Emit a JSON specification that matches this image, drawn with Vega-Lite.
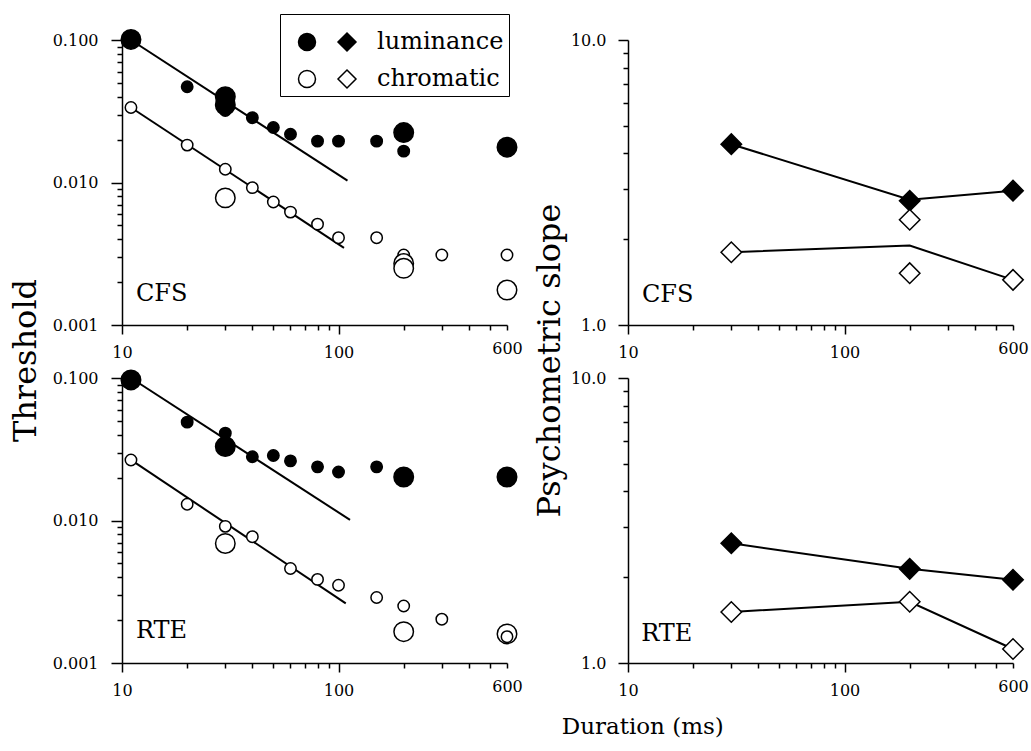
{
  "$schema": "https://vega.github.io/schema/vega-lite/v6.json",
  "padding": {"left": 9, "top": 13, "right": 10, "bottom": 10},
  "bounds": "flush",
  "columns": 2,
  "spacing": {"row": 53, "column": 121},
  "config": {
    "view": {"stroke": null},
    "font": "DejaVu Serif",
    "axis": {
      "grid": false,
      "domainColor": "black",
      "domainWidth": 1.5,
      "tickColor": "black",
      "tickWidth": 1.5,
      "labelColor": "black",
      "labelFont": "DejaVu Serif",
      "labelFontSize": 16,
      "labelOverlap": false,
      "labelFlush": false,
      "labelBound": false,
      "titleFont": "DejaVu Serif",
      "titleFontSize": 32,
      "titleFontWeight": "normal",
      "titleColor": "black"
    }
  },
  "title": {"text": "Duration (ms)", "orient": "bottom", "anchor": "middle", "font": "DejaVu Serif", "fontSize": 23, "fontWeight": "normal", "color": "black", "offset": 18, "dx": 124},
  "datasets": {
    "thr": [
      {"panel": "CFS", "type": "luminance", "dur": 11, "thr": 0.101, "marker": "large"},
      {"panel": "CFS", "type": "luminance", "dur": 20, "thr": 0.047, "marker": "small"},
      {"panel": "CFS", "type": "luminance", "dur": 30, "thr": 0.040, "marker": "large"},
      {"panel": "CFS", "type": "luminance", "dur": 30, "thr": 0.035, "marker": "large"},
      {"panel": "CFS", "type": "luminance", "dur": 30, "thr": 0.032, "marker": "small"},
      {"panel": "CFS", "type": "luminance", "dur": 40, "thr": 0.0285, "marker": "small"},
      {"panel": "CFS", "type": "luminance", "dur": 50, "thr": 0.0243, "marker": "small"},
      {"panel": "CFS", "type": "luminance", "dur": 60, "thr": 0.0218, "marker": "small"},
      {"panel": "CFS", "type": "luminance", "dur": 80, "thr": 0.0195, "marker": "small"},
      {"panel": "CFS", "type": "luminance", "dur": 100, "thr": 0.0195, "marker": "small"},
      {"panel": "CFS", "type": "luminance", "dur": 150, "thr": 0.0195, "marker": "small"},
      {"panel": "CFS", "type": "luminance", "dur": 200, "thr": 0.0224, "marker": "large"},
      {"panel": "CFS", "type": "luminance", "dur": 200, "thr": 0.0166, "marker": "small"},
      {"panel": "CFS", "type": "luminance", "dur": 600, "thr": 0.0177, "marker": "large"},
      {"panel": "CFS", "type": "chromatic", "dur": 11, "thr": 0.0336, "marker": "small"},
      {"panel": "CFS", "type": "chromatic", "dur": 20, "thr": 0.0183, "marker": "small"},
      {"panel": "CFS", "type": "chromatic", "dur": 30, "thr": 0.0124, "marker": "small"},
      {"panel": "CFS", "type": "chromatic", "dur": 30, "thr": 0.0078, "marker": "large"},
      {"panel": "CFS", "type": "chromatic", "dur": 40, "thr": 0.0092, "marker": "small"},
      {"panel": "CFS", "type": "chromatic", "dur": 50, "thr": 0.0073, "marker": "small"},
      {"panel": "CFS", "type": "chromatic", "dur": 60, "thr": 0.0062, "marker": "small"},
      {"panel": "CFS", "type": "chromatic", "dur": 80, "thr": 0.0051, "marker": "small"},
      {"panel": "CFS", "type": "chromatic", "dur": 100, "thr": 0.0041, "marker": "small"},
      {"panel": "CFS", "type": "chromatic", "dur": 150, "thr": 0.0041, "marker": "small"},
      {"panel": "CFS", "type": "chromatic", "dur": 200, "thr": 0.0031, "marker": "small"},
      {"panel": "CFS", "type": "chromatic", "dur": 200, "thr": 0.0027, "marker": "large"},
      {"panel": "CFS", "type": "chromatic", "dur": 200, "thr": 0.0025, "marker": "large"},
      {"panel": "CFS", "type": "chromatic", "dur": 300, "thr": 0.0031, "marker": "small"},
      {"panel": "CFS", "type": "chromatic", "dur": 600, "thr": 0.0031, "marker": "small"},
      {"panel": "CFS", "type": "chromatic", "dur": 600, "thr": 0.00176, "marker": "large"},
      {"panel": "RTE", "type": "luminance", "dur": 11, "thr": 0.097, "marker": "large"},
      {"panel": "RTE", "type": "luminance", "dur": 20, "thr": 0.049, "marker": "small"},
      {"panel": "RTE", "type": "luminance", "dur": 30, "thr": 0.041, "marker": "small"},
      {"panel": "RTE", "type": "luminance", "dur": 30, "thr": 0.033, "marker": "large"},
      {"panel": "RTE", "type": "luminance", "dur": 40, "thr": 0.028, "marker": "small"},
      {"panel": "RTE", "type": "luminance", "dur": 50, "thr": 0.0286, "marker": "small"},
      {"panel": "RTE", "type": "luminance", "dur": 60, "thr": 0.0262, "marker": "small"},
      {"panel": "RTE", "type": "luminance", "dur": 80, "thr": 0.0238, "marker": "small"},
      {"panel": "RTE", "type": "luminance", "dur": 100, "thr": 0.0219, "marker": "small"},
      {"panel": "RTE", "type": "luminance", "dur": 150, "thr": 0.0238, "marker": "small"},
      {"panel": "RTE", "type": "luminance", "dur": 200, "thr": 0.0202, "marker": "large"},
      {"panel": "RTE", "type": "luminance", "dur": 600, "thr": 0.0202, "marker": "large"},
      {"panel": "RTE", "type": "chromatic", "dur": 11, "thr": 0.0266, "marker": "small"},
      {"panel": "RTE", "type": "chromatic", "dur": 20, "thr": 0.0130, "marker": "small"},
      {"panel": "RTE", "type": "chromatic", "dur": 30, "thr": 0.0091, "marker": "small"},
      {"panel": "RTE", "type": "chromatic", "dur": 30, "thr": 0.0069, "marker": "large"},
      {"panel": "RTE", "type": "chromatic", "dur": 40, "thr": 0.0077, "marker": "small"},
      {"panel": "RTE", "type": "chromatic", "dur": 60, "thr": 0.0046, "marker": "small"},
      {"panel": "RTE", "type": "chromatic", "dur": 80, "thr": 0.00386, "marker": "small"},
      {"panel": "RTE", "type": "chromatic", "dur": 100, "thr": 0.00351, "marker": "small"},
      {"panel": "RTE", "type": "chromatic", "dur": 150, "thr": 0.00288, "marker": "small"},
      {"panel": "RTE", "type": "chromatic", "dur": 200, "thr": 0.00251, "marker": "small"},
      {"panel": "RTE", "type": "chromatic", "dur": 200, "thr": 0.00166, "marker": "large"},
      {"panel": "RTE", "type": "chromatic", "dur": 300, "thr": 0.00203, "marker": "small"},
      {"panel": "RTE", "type": "chromatic", "dur": 600, "thr": 0.0016, "marker": "large"},
      {"panel": "RTE", "type": "chromatic", "dur": 600, "thr": 0.00153, "marker": "small"}
    ],
    "fit": [
      {"panel": "CFS", "type": "luminance", "dur": 11, "thr": 0.100},
      {"panel": "CFS", "type": "luminance", "dur": 110, "thr": 0.0103},
      {"panel": "CFS", "type": "chromatic", "dur": 11, "thr": 0.0336},
      {"panel": "CFS", "type": "chromatic", "dur": 106, "thr": 0.00348},
      {"panel": "RTE", "type": "luminance", "dur": 11, "thr": 0.100},
      {"panel": "RTE", "type": "luminance", "dur": 113, "thr": 0.0101},
      {"panel": "RTE", "type": "chromatic", "dur": 11, "thr": 0.0266},
      {"panel": "RTE", "type": "chromatic", "dur": 108, "thr": 0.00262}
    ],
    "slope": [
      {"panel": "CFS", "type": "luminance", "dur": 30, "slope": 4.31},
      {"panel": "CFS", "type": "luminance", "dur": 200, "slope": 2.73},
      {"panel": "CFS", "type": "luminance", "dur": 600, "slope": 2.96},
      {"panel": "CFS", "type": "chromatic", "dur": 30, "slope": 1.80},
      {"panel": "CFS", "type": "chromatic", "dur": 200, "slope": 2.34},
      {"panel": "CFS", "type": "chromatic", "dur": 200, "slope": 1.52},
      {"panel": "CFS", "type": "chromatic", "dur": 600, "slope": 1.44},
      {"panel": "RTE", "type": "luminance", "dur": 30, "slope": 2.63},
      {"panel": "RTE", "type": "luminance", "dur": 200, "slope": 2.14},
      {"panel": "RTE", "type": "luminance", "dur": 600, "slope": 1.96},
      {"panel": "RTE", "type": "chromatic", "dur": 30, "slope": 1.51},
      {"panel": "RTE", "type": "chromatic", "dur": 200, "slope": 1.64},
      {"panel": "RTE", "type": "chromatic", "dur": 600, "slope": 1.12}
    ],
    "slopeLine": [
      {"panel": "CFS", "type": "luminance", "dur": 30, "slope": 4.31},
      {"panel": "CFS", "type": "luminance", "dur": 200, "slope": 2.75},
      {"panel": "CFS", "type": "luminance", "dur": 600, "slope": 2.96},
      {"panel": "CFS", "type": "chromatic", "dur": 30, "slope": 1.80},
      {"panel": "CFS", "type": "chromatic", "dur": 200, "slope": 1.90},
      {"panel": "CFS", "type": "chromatic", "dur": 600, "slope": 1.44},
      {"panel": "RTE", "type": "luminance", "dur": 30, "slope": 2.63},
      {"panel": "RTE", "type": "luminance", "dur": 200, "slope": 2.14},
      {"panel": "RTE", "type": "luminance", "dur": 600, "slope": 1.96},
      {"panel": "RTE", "type": "chromatic", "dur": 30, "slope": 1.51},
      {"panel": "RTE", "type": "chromatic", "dur": 200, "slope": 1.64},
      {"panel": "RTE", "type": "chromatic", "dur": 600, "slope": 1.12}
    ],
    "labels": [
      {"panel": "CFS", "kind": "thr", "dur": 11.6, "value": 0.00148, "text": "CFS"},
      {"panel": "RTE", "kind": "thr", "dur": 11.6, "value": 0.00150, "text": "RTE"},
      {"panel": "CFS", "kind": "slope", "dur": 11.6, "value": 1.2, "text": "CFS"},
      {"panel": "RTE", "kind": "slope", "dur": 11.5, "value": 1.19, "text": "RTE"}
    ]
  },
  "concat": [
    {
      "width": 385, "height": 285,
      "layer": [
        {
          "data": {"name": "fit"},
          "transform": [{"filter": "datum.panel == 'CFS'"}],
          "mark": {"type": "line", "color": "black", "strokeWidth": 2},
          "encoding": {
            "x": {"field": "dur", "type": "quantitative", "scale": {"type": "log", "domain": [10, 600], "nice": false},
              "axis": {"title": null, "values": [10,20,30,40,50,60,70,80,90,100,200,300,400,500,600], "labelExpr": "datum.value==10||datum.value==100||datum.value==600 ? format(datum.value,'d') : ''", "tickSize": {"condition": {"test": "datum.value==10||datum.value==100", "value": 9}, "value": 5}, "labelPadding": 10}},
            "y": {"field": "thr", "type": "quantitative", "scale": {"type": "log", "domain": [0.001, 0.1], "nice": false},
              "axis": {"title": "Threshold", "titleY": 320, "titlePadding": 10, "values": [0.001,0.002,0.003,0.004,0.005,0.006,0.007,0.008,0.009,0.01,0.02,0.03,0.04,0.05,0.06,0.07,0.08,0.09,0.1], "labelExpr": "datum.value==0.001||datum.value==0.01||datum.value==0.1 ? format(datum.value,'.3f') : ''", "tickSize": {"condition": {"test": "datum.value==0.001||datum.value==0.01||datum.value==0.1", "value": 11}, "value": 5}, "labelPadding": 13}},
            "detail": {"field": "type", "type": "nominal"}
          }
        },
        {
          "data": {"name": "thr"},
          "transform": [{"filter": "datum.panel == 'CFS'"}],
          "mark": {"type": "point", "shape": "circle", "filled": true, "stroke": "black", "strokeWidth": 1.5, "opacity": 1},
          "encoding": {
            "x": {"field": "dur", "type": "quantitative"},
            "y": {"field": "thr", "type": "quantitative"},
            "fill": {"field": "type", "type": "nominal", "scale": {"domain": ["luminance", "chromatic"], "range": ["black", "white"]},
              "legend": {"orient": "none", "legendX": 158, "legendY": -26, "title": " ", "titleFontSize": 9, "titlePadding": 2,
                "symbolType": "M -2.85,0 A 0.85,0.85 0 1,1 -1.15,0 A 0.85,0.85 0 1,1 -2.85,0 Z M 2,-0.9 L 2.9,0 L 2,0.9 L 1.1,0 Z",
                "symbolSize": 400, "symbolStrokeColor": "black", "symbolStrokeWidth": 1.5,
                "labelFont": "DejaVu Serif", "labelFontSize": 24, "labelColor": "black", "labelOffset": 38, "labelLimit": 300,
                "strokeColor": "black", "fillColor": "white", "padding": 5, "rowPadding": 13, "symbolOffset": 30}},
            "size": {"field": "marker", "type": "ordinal", "scale": {"domain": ["small", "large"], "range": [130, 380]}, "legend": null}
          }
        },
        {
          "data": {"name": "labels"},
          "transform": [{"filter": "datum.panel == 'CFS' && datum.kind == 'thr'"}],
          "mark": {"type": "text", "align": "left", "baseline": "alphabetic", "fontSize": 24, "font": "DejaVu Serif", "color": "black"},
          "encoding": {
            "x": {"field": "dur", "type": "quantitative"},
            "y": {"field": "value", "type": "quantitative"},
            "text": {"field": "text"}
          }
        }
      ]
    },
    {
      "width": 385, "height": 285,
      "layer": [
        {
          "data": {"name": "slopeLine"},
          "transform": [{"filter": "datum.panel == 'CFS'"}],
          "mark": {"type": "line", "color": "black", "strokeWidth": 2},
          "encoding": {
            "x": {"field": "dur", "type": "quantitative", "scale": {"type": "log", "domain": [10, 600], "nice": false},
              "axis": {"title": null, "values": [10,20,30,40,50,60,70,80,90,100,200,300,400,500,600], "labelExpr": "datum.value==10||datum.value==100||datum.value==600 ? format(datum.value,'d') : ''", "tickSize": {"condition": {"test": "datum.value==10||datum.value==100", "value": 9}, "value": 5}, "labelPadding": 10}},
            "y": {"field": "slope", "type": "quantitative", "scale": {"type": "log", "domain": [1, 10], "nice": false},
              "axis": {"title": "Psychometric slope", "titleY": 320, "titlePadding": 4, "values": [1,2,3,4,5,6,7,8,9,10], "labelExpr": "datum.value==1||datum.value==10 ? format(datum.value,'.1f') : ''", "tickSize": {"condition": {"test": "datum.value==1||datum.value==10", "value": 10}, "value": 5}, "labelPadding": 12}},
            "detail": {"field": "type", "type": "nominal"}
          }
        },
        {
          "data": {"name": "slope"},
          "transform": [{"filter": "datum.panel == 'CFS'"}],
          "mark": {"type": "point", "shape": "diamond", "filled": true, "stroke": "black", "strokeWidth": 1.5, "opacity": 1, "size": 420},
          "encoding": {
            "x": {"field": "dur", "type": "quantitative"},
            "y": {"field": "slope", "type": "quantitative"},
            "fill": {"field": "type", "type": "nominal", "scale": {"domain": ["luminance", "chromatic"], "range": ["black", "white"]}, "legend": null}
          }
        },
        {
          "data": {"name": "labels"},
          "transform": [{"filter": "datum.panel == 'CFS' && datum.kind == 'slope'"}],
          "mark": {"type": "text", "align": "left", "baseline": "alphabetic", "fontSize": 24, "font": "DejaVu Serif", "color": "black"},
          "encoding": {
            "x": {"field": "dur", "type": "quantitative"},
            "y": {"field": "value", "type": "quantitative"},
            "text": {"field": "text"}
          }
        }
      ]
    },
    {
      "width": 385, "height": 285,
      "layer": [
        {
          "data": {"name": "fit"},
          "transform": [{"filter": "datum.panel == 'RTE'"}],
          "mark": {"type": "line", "color": "black", "strokeWidth": 2},
          "encoding": {
            "x": {"field": "dur", "type": "quantitative", "scale": {"type": "log", "domain": [10, 600], "nice": false},
              "axis": {"title": null, "values": [10,20,30,40,50,60,70,80,90,100,200,300,400,500,600], "labelExpr": "datum.value==10||datum.value==100||datum.value==600 ? format(datum.value,'d') : ''", "tickSize": {"condition": {"test": "datum.value==10||datum.value==100", "value": 9}, "value": 5}, "labelPadding": 10}},
            "y": {"field": "thr", "type": "quantitative", "scale": {"type": "log", "domain": [0.001, 0.1], "nice": false},
              "axis": {"title": null, "values": [0.001,0.002,0.003,0.004,0.005,0.006,0.007,0.008,0.009,0.01,0.02,0.03,0.04,0.05,0.06,0.07,0.08,0.09,0.1], "labelExpr": "datum.value==0.001||datum.value==0.01||datum.value==0.1 ? format(datum.value,'.3f') : ''", "tickSize": {"condition": {"test": "datum.value==0.001||datum.value==0.01||datum.value==0.1", "value": 11}, "value": 5}, "labelPadding": 13}},
            "detail": {"field": "type", "type": "nominal"}
          }
        },
        {
          "data": {"name": "thr"},
          "transform": [{"filter": "datum.panel == 'RTE'"}],
          "mark": {"type": "point", "shape": "circle", "filled": true, "stroke": "black", "strokeWidth": 1.5, "opacity": 1},
          "encoding": {
            "x": {"field": "dur", "type": "quantitative"},
            "y": {"field": "thr", "type": "quantitative"},
            "fill": {"field": "type", "type": "nominal", "scale": {"domain": ["luminance", "chromatic"], "range": ["black", "white"]}, "legend": null},
            "size": {"field": "marker", "type": "ordinal", "scale": {"domain": ["small", "large"], "range": [130, 380]}, "legend": null}
          }
        },
        {
          "data": {"name": "labels"},
          "transform": [{"filter": "datum.panel == 'RTE' && datum.kind == 'thr'"}],
          "mark": {"type": "text", "align": "left", "baseline": "alphabetic", "fontSize": 24, "font": "DejaVu Serif", "color": "black"},
          "encoding": {
            "x": {"field": "dur", "type": "quantitative"},
            "y": {"field": "value", "type": "quantitative"},
            "text": {"field": "text"}
          }
        }
      ]
    },
    {
      "width": 385, "height": 285,
      "layer": [
        {
          "data": {"name": "slopeLine"},
          "transform": [{"filter": "datum.panel == 'RTE'"}],
          "mark": {"type": "line", "color": "black", "strokeWidth": 2},
          "encoding": {
            "x": {"field": "dur", "type": "quantitative", "scale": {"type": "log", "domain": [10, 600], "nice": false},
              "axis": {"title": null, "values": [10,20,30,40,50,60,70,80,90,100,200,300,400,500,600], "labelExpr": "datum.value==10||datum.value==100||datum.value==600 ? format(datum.value,'d') : ''", "tickSize": {"condition": {"test": "datum.value==10||datum.value==100", "value": 9}, "value": 5}, "labelPadding": 10}},
            "y": {"field": "slope", "type": "quantitative", "scale": {"type": "log", "domain": [1, 10], "nice": false},
              "axis": {"title": null, "values": [1,2,3,4,5,6,7,8,9,10], "labelExpr": "datum.value==1||datum.value==10 ? format(datum.value,'.1f') : ''", "tickSize": {"condition": {"test": "datum.value==1||datum.value==10", "value": 10}, "value": 5}, "labelPadding": 12}},
            "detail": {"field": "type", "type": "nominal"}
          }
        },
        {
          "data": {"name": "slope"},
          "transform": [{"filter": "datum.panel == 'RTE'"}],
          "mark": {"type": "point", "shape": "diamond", "filled": true, "stroke": "black", "strokeWidth": 1.5, "opacity": 1, "size": 420},
          "encoding": {
            "x": {"field": "dur", "type": "quantitative"},
            "y": {"field": "slope", "type": "quantitative"},
            "fill": {"field": "type", "type": "nominal", "scale": {"domain": ["luminance", "chromatic"], "range": ["black", "white"]}, "legend": null}
          }
        },
        {
          "data": {"name": "labels"},
          "transform": [{"filter": "datum.panel == 'RTE' && datum.kind == 'slope'"}],
          "mark": {"type": "text", "align": "left", "baseline": "alphabetic", "fontSize": 24, "font": "DejaVu Serif", "color": "black"},
          "encoding": {
            "x": {"field": "dur", "type": "quantitative"},
            "y": {"field": "value", "type": "quantitative"},
            "text": {"field": "text"}
          }
        }
      ]
    }
  ]
}
